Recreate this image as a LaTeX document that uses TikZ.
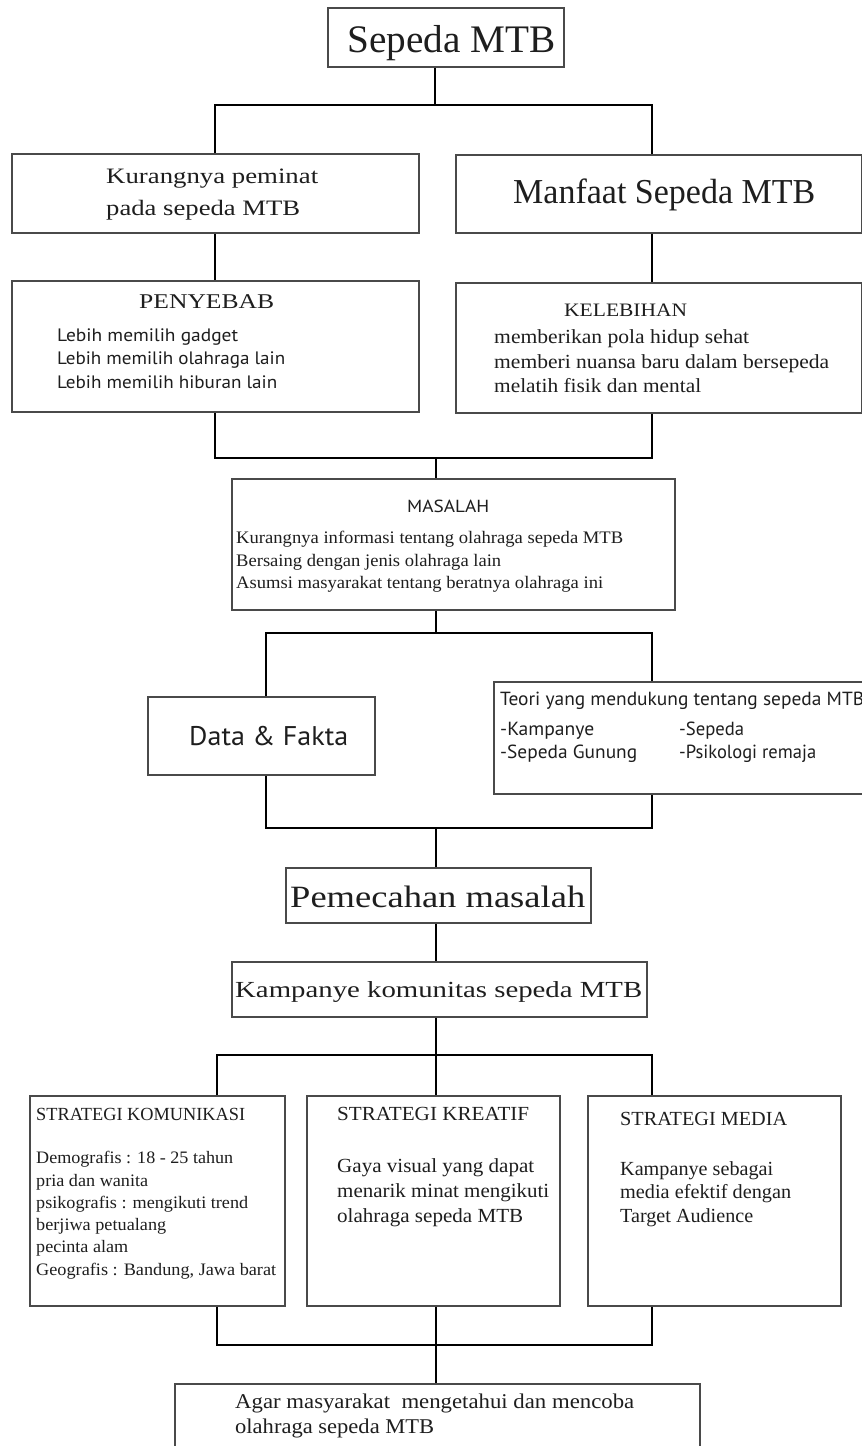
\documentclass[tikz,border=0pt]{standalone}
\usepackage{fontspec}
\setmainfont{Liberation Serif}
\setsansfont{PT Sans}
\usepackage{graphicx}
\definecolor{ink}{HTML}{1E1E1E}
\definecolor{frame}{HTML}{4A4A4A}
\newcommand\serT[3]{\resizebox{#1pt}{\height}{\fontsize{#2}{#2}\selectfont\rmfamily #3}}
\newcommand\sanT[3]{\resizebox{#1pt}{\height}{\fontsize{#2}{#2}\selectfont\sffamily #3}}
\tikzset{
  box/.style={draw=frame, line width=1.8pt, fill=white, rectangle, inner sep=0pt, anchor=north west},
  txt/.style={anchor=base west, inner sep=0pt, text=ink},
  conn/.style={draw=black, line width=2.8pt}
}
\begin{document}
\begin{tikzpicture}[x=1pt,y=-1pt]
\useasboundingbox[fill=white] (0,0) rectangle (862,1446);

% ---------- junction coordinates ----------
\coordinate (b1l) at (215,105);  \coordinate (b1c) at (435,105);  \coordinate (b1r) at (652,105);
\coordinate (b3l) at (215,458);  \coordinate (b3c) at (436,458);  \coordinate (b3r) at (652,458);
\coordinate (b4l) at (266,633);  \coordinate (b4c) at (436,633);  \coordinate (b4r) at (652,633);
\coordinate (b5l) at (266,828);  \coordinate (b5c) at (436,828);  \coordinate (b5r) at (652,828);
\coordinate (b6l) at (217,1055); \coordinate (b6c) at (436,1055); \coordinate (b6r) at (652,1055);
\coordinate (b7l) at (217,1345); \coordinate (b7c) at (436,1345); \coordinate (b7r) at (652,1345);

% ---------- boxes ----------
\node[box, minimum width=236pt, minimum height=59pt]  (top) at (327,7) {};
\node[box, minimum width=407pt, minimum height=79pt]  (kur) at (11,153) {};
\node[box, minimum width=406pt, minimum height=78pt]  (man) at (455,154) {};
\node[box, minimum width=407pt, minimum height=131pt] (pen) at (11,280) {};
\node[box, minimum width=406pt, minimum height=130pt] (kel) at (455,282) {};
\node[box, minimum width=443pt, minimum height=131pt] (mas) at (231,478) {};
\node[box, minimum width=227pt, minimum height=78pt]  (dat) at (147,696) {};
\node[box, minimum width=387pt, minimum height=112pt] (teo) at (493,681) {};
\node[box, minimum width=305pt, minimum height=55pt]  (pem) at (285,867) {};
\node[box, minimum width=415pt, minimum height=55pt]  (kam) at (231,961) {};
\node[box, minimum width=255pt, minimum height=210pt] (kom) at (29,1095) {};
\node[box, minimum width=253pt, minimum height=210pt] (kre) at (306,1095) {};
\node[box, minimum width=253pt, minimum height=210pt] (med) at (587,1095) {};
\node[box, minimum width=525pt, minimum height=90pt]  (fin) at (174,1383) {};

% ---------- connectors ----------
\draw[conn] (top.south -| b1c) -- (b1c);
\draw[conn] (kur.north -| b1l) -- (b1l) -- (b1r) -- (man.north -| b1r);
\draw[conn] (kur.south -| b1l) -- (pen.north -| b1l);
\draw[conn] (man.south -| b1r) -- (kel.north -| b1r);
\draw[conn] (pen.south -| b3l) -- (b3l) -- (b3r) -- (kel.south -| b3r);
\draw[conn] (b3c) -- (mas.north -| b3c);
\draw[conn] (mas.south -| b4c) -- (b4c);
\draw[conn] (dat.north -| b4l) -- (b4l) -- (b4r) -- (teo.north -| b4r);
\draw[conn] (dat.south -| b5l) -- (b5l) -- (b5r) -- (teo.south -| b5r);
\draw[conn] (b5c) -- (pem.north -| b5c);
\draw[conn] (pem.south -| b5c) -- (kam.north -| b5c);
\draw[conn] (kam.south -| b6c) -- (b6c);
\draw[conn] (kom.north -| b6l) -- (b6l) -- (b6r) -- (med.north -| b6r);
\draw[conn] (b6c) -- (kre.north -| b6c);
\draw[conn] (kom.south -| b7l) -- (b7l) -- (b7r) -- (med.south -| b7r);
\draw[conn] (kre.south -| b7c) -- (b7c) -- (fin.north -| b7c);

% ---------- texts ----------
\node[txt] (tTop) at (347,52) {\serT{208}{39}{Sepeda MTB}};
\node[txt] (tKur1) at (106,183) {\serT{212}{22}{Kurangnya peminat}};
\node[txt] (tKur2) at (106,215) {\serT{194}{22}{pada sepeda MTB}};
\node[txt] (tMan) at (513,203) {\serT{302}{35}{Manfaat Sepeda MTB}};

\node[txt] (tPen) at (139,308) {\serT{135}{21}{PENYEBAB}};
\node[txt] (tPen1) at (57,341) {\sanT{181}{18}{Lebih memilih gadget}};
\node[txt] (tPen2) at (57,364) {\sanT{228}{18}{Lebih memilih olahraga lain}};
\node[txt] (tPen3) at (57,388) {\sanT{220}{18}{Lebih memilih hiburan lain}};

\node[txt] (tKel) at (564,316) {\serT{123}{19}{KELEBIHAN}};
\node[txt] (tKel1) at (494,343) {\serT{255}{20}{memberikan pola hidup sehat}};
\node[txt] (tKel2) at (494,368) {\serT{335}{20}{memberi nuansa baru dalam bersepeda}};
\node[txt] (tKel3) at (494,392) {\serT{207}{20}{melatih fisik dan mental}};

\node[txt] (tMas) at (407,512) {\sanT{82}{17.5}{MASALAH}};
\node[txt] (tMas1) at (236,543) {\serT{387}{17.6}{Kurangnya informasi tentang olahraga sepeda MTB}};
\node[txt] (tMas2) at (236,566) {\serT{265}{17.6}{Bersaing dengan jenis olahraga lain}};
\node[txt] (tMas3) at (236,588) {\serT{367}{17.6}{Asumsi masyarakat tentang beratnya olahraga ini}};

\node[txt] (tDat) at (189,745) {\sanT{159}{27}{Data \& Fakta}};
\node[txt] (tTeo) at (500,705) {\sanT{364}{19}{Teori yang mendukung tentang sepeda MTB}};
\node[txt] (tTeo1) at (500,735) {\sanT{94}{19}{-Kampanye}};
\node[txt] (tTeo2) at (679,735) {\sanT{65}{19}{-Sepeda}};
\node[txt] (tTeo3) at (500,758) {\sanT{137}{19}{-Sepeda Gunung}};
\node[txt] (tTeo4) at (679,758) {\sanT{137}{19}{-Psikologi remaja}};

\node[txt] (tPem) at (290,907) {\serT{295}{31}{Pemecahan masalah}};
\node[txt] (tKam) at (235,997) {\serT{407}{23}{Kampanye komunitas sepeda MTB}};

\node[txt] (tKom) at (36,1120) {\serT{209}{18.5}{STRATEGI KOMUNIKASI}};
\node[txt] (tKom1) at (36,1163) {\serT{197}{17.5}{Demografis : 18 - 25 tahun}};
\node[txt] (tKom2) at (36,1186) {\serT{112}{17.5}{pria dan wanita}};
\node[txt] (tKom3) at (36,1208) {\serT{212}{17.5}{psikografis : mengikuti trend}};
\node[txt] (tKom4) at (36,1230) {\serT{130}{17.5}{berjiwa petualang}};
\node[txt] (tKom5) at (36,1252) {\serT{92}{17.5}{pecinta alam}};
\node[txt] (tKom6) at (36,1275) {\serT{240}{17.5}{Geografis : Bandung, Jawa barat}};

\node[txt] (tKre) at (337,1120) {\serT{192}{20}{STRATEGI KREATIF}};
\node[txt] (tKre1) at (337,1172) {\serT{197}{20}{Gaya visual yang dapat}};
\node[txt] (tKre2) at (337,1197) {\serT{212}{20}{menarik minat mengikuti}};
\node[txt] (tKre3) at (337,1222) {\serT{186}{20}{olahraga sepeda MTB}};

\node[txt] (tMed) at (620,1125) {\serT{167}{20}{STRATEGI MEDIA}};
\node[txt] (tMed1) at (620,1175) {\serT{153}{20}{Kampanye sebagai}};
\node[txt] (tMed2) at (620,1198) {\serT{171}{20}{media efektif dengan}};
\node[txt] (tMed3) at (620,1222) {\serT{133}{20}{Target Audience}};

\node[txt] (tFin1) at (235,1408) {\serT{399}{21}{Agar masyarakat\ \ mengetahui dan mencoba}};
\node[txt] (tFin2) at (235,1433) {\serT{199}{21}{olahraga sepeda MTB}};
\end{tikzpicture}
\end{document}
